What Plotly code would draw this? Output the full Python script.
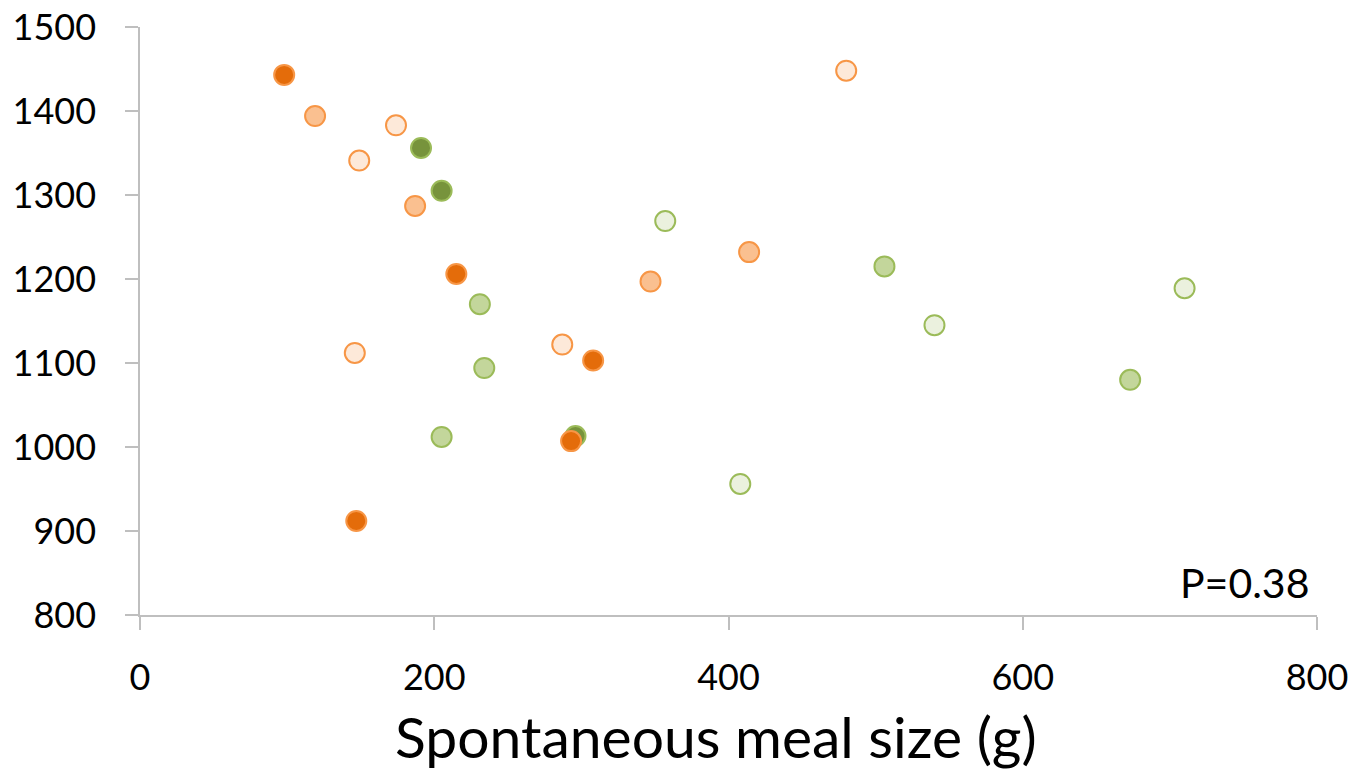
import plotly.graph_objects as go

# Meal size (g) vs. value, six groups
dark_green_x = [191, 205, 296]
dark_green_y = [1356, 1305, 1013]

mid_green_x = [231, 234, 205, 506, 673]
mid_green_y = [1170, 1094, 1012, 1215, 1080]

pale_green_x = [357, 540, 408, 710]
pale_green_y = [1269, 1145, 956, 1189]

dark_orange_x = [98, 215, 308, 293, 147]
dark_orange_y = [1443, 1206, 1103, 1007, 912]

mid_orange_x = [119, 187, 347, 414]
mid_orange_y = [1394, 1287, 1197, 1232]

pale_orange_x = [480, 174, 149, 146, 287]
pale_orange_y = [1448, 1383, 1341, 1112, 1122]

x_ticks = [0, 200, 400, 600, 800]
y_ticks = [800, 900, 1000, 1100, 1200, 1300, 1400, 1500]

GREEN_LINE = "#9BBB59"
ORANGE_LINE = "#F79646"

series = [
    (dark_green_x, dark_green_y, "#77933C", GREEN_LINE),
    (mid_green_x, mid_green_y, "#C3D69B", GREEN_LINE),
    (pale_green_x, pale_green_y, "#EBF1DE", GREEN_LINE),
    (dark_orange_x, dark_orange_y, "#E46C0A", ORANGE_LINE),
    (mid_orange_x, mid_orange_y, "#FAC090", ORANGE_LINE),
    (pale_orange_x, pale_orange_y, "#FDE9D9", ORANGE_LINE),
]

fig = go.Figure()
for xs, ys, fill, edge in series:
    fig.add_trace(go.Scatter(
        x=xs, y=ys, mode="markers",
        marker=dict(size=20, color=fill, line=dict(color=edge, width=2)),
        showlegend=False, hoverinfo="x+y",
    ))

axis_common = dict(
    showgrid=False, zeroline=False, showline=True, automargin=False,
    linecolor="#BFBFBF", linewidth=1.5,
    ticks="outside", ticklen=13, tickcolor="#BFBFBF", tickwidth=1.5,
    tickfont=dict(family="Lato", size=36, color="#000000"),
)

fig.update_xaxes(
    range=[0, 800], tickvals=x_ticks, ticktext=[str(v) for v in x_ticks],
    ticklabelstandoff=17,
    **axis_common,
)
fig.update_yaxes(
    range=[800, 1500], tickvals=y_ticks, ticktext=[str(v) for v in y_ticks],
    ticklabelstandoff=22,
    **axis_common,
)

# Plot area in pixels, used to place the x-axis title in paper units
PLOT_L, PLOT_R, PLOT_T, PLOT_B = 140, 1317, 27, 615
title_px, title_py = 716, 736

fig.add_annotation(
    x=(title_px - PLOT_L) / (PLOT_R - PLOT_L),
    y=-(title_py - PLOT_B) / (PLOT_B - PLOT_T),
    xref="paper", yref="paper", showarrow=False,
    text="Spontaneous meal size (g)",
    font=dict(family="Lato", size=57, color="#000000"),
    xanchor="center", yanchor="middle",
)

fig.add_annotation(
    x=1, y=0, xref="paper", yref="paper", xanchor="right", yanchor="bottom",
    text="P=0.38", showarrow=False, xshift=-6, yshift=6,
    font=dict(family="Lato", size=41, color="#000000"),
)

fig.update_layout(
    width=1353, height=775,
    margin=dict(l=PLOT_L, r=1353 - PLOT_R, t=PLOT_T, b=775 - PLOT_B),
    paper_bgcolor="white", plot_bgcolor="white",
)

fig.write_html("out.html")
